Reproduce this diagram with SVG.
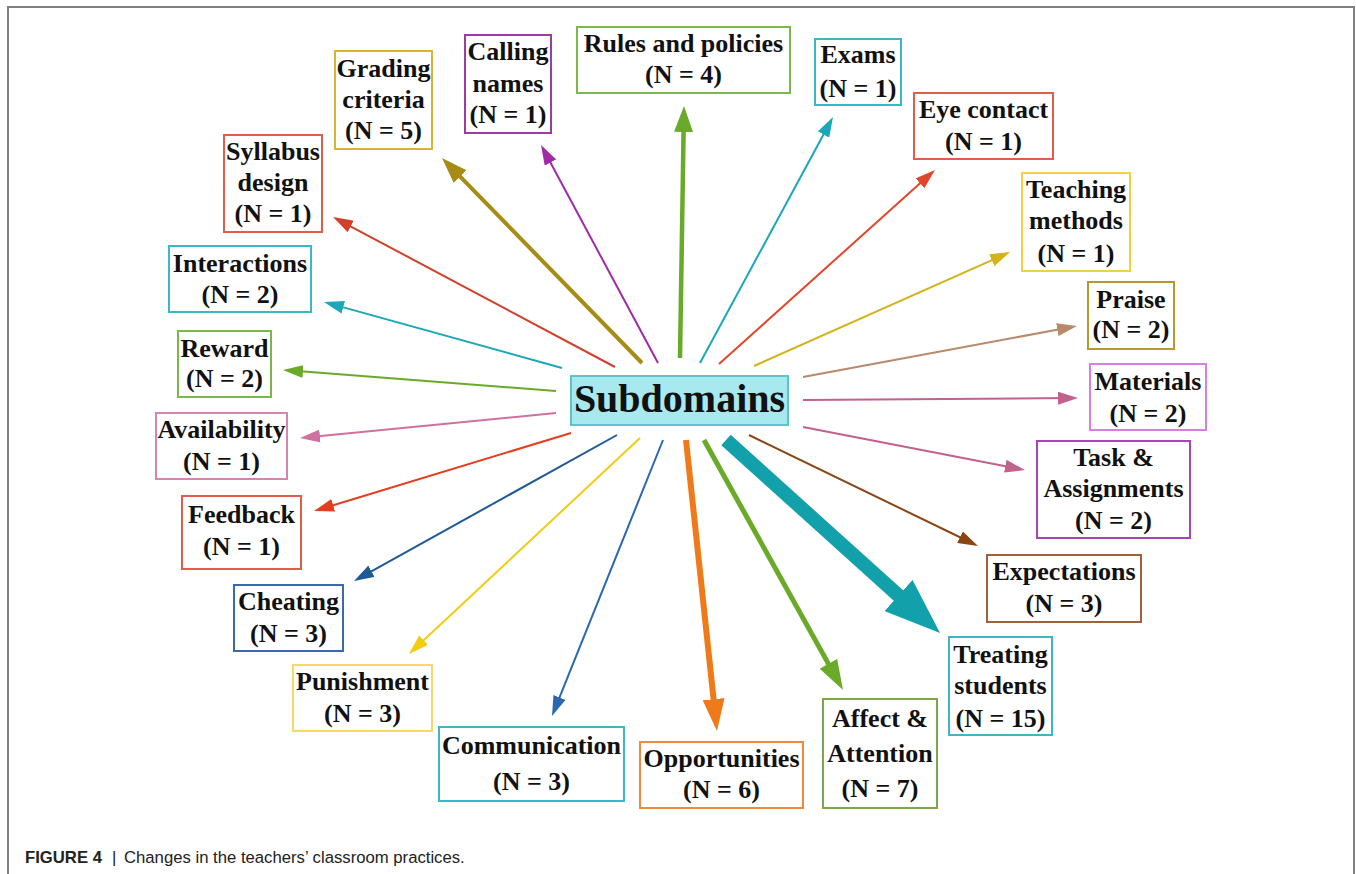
<svg xmlns="http://www.w3.org/2000/svg" width="1356" height="874" viewBox="0 0 1356 874">
<style>
.bg{fill:#ffffff}
.frame{fill:none;stroke:#808080;stroke-width:2}
.box{fill:#ffffff;stroke-width:2}
.t{font-family:"Liberation Serif","Times New Roman",serif;font-weight:bold;font-size:26px;fill:#111;text-anchor:middle}
.hub{font-family:"Liberation Serif","Times New Roman",serif;font-weight:bold;font-size:40px;fill:#111;text-anchor:middle}
.cap{font-family:"Liberation Sans",Arial,sans-serif;font-size:16.7px;fill:#222}
.c{fill:none;stroke-linecap:butt}
.thin{stroke-width:2}
</style>
<defs>
<marker id="m-syl" viewBox="0 0 20 13" refX="12" refY="6.5" markerWidth="20" markerHeight="13" orient="auto" markerUnits="userSpaceOnUse"><path d="M0,0 L20,6.5 L0,13 z" fill="#d0402a"/></marker>
<marker id="m-gra" viewBox="0 0 26 18" refX="14" refY="9" markerWidth="26" markerHeight="18" orient="auto" markerUnits="userSpaceOnUse"><path d="M0,0 L26,9 L0,18 z" fill="#a68c14"/></marker>
<marker id="m-cal" viewBox="0 0 20 13" refX="12" refY="6.5" markerWidth="20" markerHeight="13" orient="auto" markerUnits="userSpaceOnUse"><path d="M0,0 L20,6.5 L0,13 z" fill="#a02aa8"/></marker>
<marker id="m-rul" viewBox="0 0 26 19" refX="14" refY="9.5" markerWidth="26" markerHeight="19" orient="auto" markerUnits="userSpaceOnUse"><path d="M0,0 L26,9.5 L0,19 z" fill="#6aaa2a"/></marker>
<marker id="m-exa" viewBox="0 0 20 13" refX="12" refY="6.5" markerWidth="20" markerHeight="13" orient="auto" markerUnits="userSpaceOnUse"><path d="M0,0 L20,6.5 L0,13 z" fill="#1aa8b8"/></marker>
<marker id="m-eye" viewBox="0 0 20 13" refX="12" refY="6.5" markerWidth="20" markerHeight="13" orient="auto" markerUnits="userSpaceOnUse"><path d="M0,0 L20,6.5 L0,13 z" fill="#e4452a"/></marker>
<marker id="m-tea" viewBox="0 0 20 13" refX="12" refY="6.5" markerWidth="20" markerHeight="13" orient="auto" markerUnits="userSpaceOnUse"><path d="M0,0 L20,6.5 L0,13 z" fill="#d4b21a"/></marker>
<marker id="m-pra" viewBox="0 0 20 13" refX="12" refY="6.5" markerWidth="20" markerHeight="13" orient="auto" markerUnits="userSpaceOnUse"><path d="M0,0 L20,6.5 L0,13 z" fill="#b8896a"/></marker>
<marker id="m-mat" viewBox="0 0 20 13" refX="12" refY="6.5" markerWidth="20" markerHeight="13" orient="auto" markerUnits="userSpaceOnUse"><path d="M0,0 L20,6.5 L0,13 z" fill="#c2608e"/></marker>
<marker id="m-exp" viewBox="0 0 20 13" refX="12" refY="6.5" markerWidth="20" markerHeight="13" orient="auto" markerUnits="userSpaceOnUse"><path d="M0,0 L20,6.5 L0,13 z" fill="#8b4513"/></marker>
<marker id="m-tre" viewBox="0 0 56 42" refX="34" refY="21" markerWidth="56" markerHeight="42" orient="auto" markerUnits="userSpaceOnUse"><path d="M0,0 L56,21 L0,42 z" fill="#12a0aa"/></marker>
<marker id="m-aff" viewBox="0 0 30 20" refX="17" refY="10" markerWidth="30" markerHeight="20" orient="auto" markerUnits="userSpaceOnUse"><path d="M0,0 L30,10 L0,20 z" fill="#6aaa28"/></marker>
<marker id="m-opp" viewBox="0 0 32 22" refX="18" refY="11" markerWidth="32" markerHeight="22" orient="auto" markerUnits="userSpaceOnUse"><path d="M0,0 L32,11 L0,22 z" fill="#f07a1a"/></marker>
<marker id="m-com" viewBox="0 0 20 13" refX="12" refY="6.5" markerWidth="20" markerHeight="13" orient="auto" markerUnits="userSpaceOnUse"><path d="M0,0 L20,6.5 L0,13 z" fill="#2a68b0"/></marker>
<marker id="m-pun" viewBox="0 0 20 13" refX="12" refY="6.5" markerWidth="20" markerHeight="13" orient="auto" markerUnits="userSpaceOnUse"><path d="M0,0 L20,6.5 L0,13 z" fill="#f2cc10"/></marker>
<marker id="m-che" viewBox="0 0 20 13" refX="12" refY="6.5" markerWidth="20" markerHeight="13" orient="auto" markerUnits="userSpaceOnUse"><path d="M0,0 L20,6.5 L0,13 z" fill="#1f5a98"/></marker>
<marker id="m-fee" viewBox="0 0 20 13" refX="12" refY="6.5" markerWidth="20" markerHeight="13" orient="auto" markerUnits="userSpaceOnUse"><path d="M0,0 L20,6.5 L0,13 z" fill="#e43e1e"/></marker>
<marker id="m-ava" viewBox="0 0 20 13" refX="12" refY="6.5" markerWidth="20" markerHeight="13" orient="auto" markerUnits="userSpaceOnUse"><path d="M0,0 L20,6.5 L0,13 z" fill="#d070a0"/></marker>
<marker id="m-rew" viewBox="0 0 20 13" refX="12" refY="6.5" markerWidth="20" markerHeight="13" orient="auto" markerUnits="userSpaceOnUse"><path d="M0,0 L20,6.5 L0,13 z" fill="#6aaa28"/></marker>
<marker id="m-int" viewBox="0 0 20 13" refX="12" refY="6.5" markerWidth="20" markerHeight="13" orient="auto" markerUnits="userSpaceOnUse"><path d="M0,0 L20,6.5 L0,13 z" fill="#1aa8b8"/></marker>
</defs>
<rect class="bg" x="0" y="0" width="1356" height="874"/>
<path class="frame" d="M8,874 L8,7 L1354,7 L1354,874"/>

<g id="connectors">
<line class="c thin" x1="615" y1="367" x2="340.1" y2="220.8" stroke="#d0402a" marker-end="url(#m-syl)"/>
<line class="c" x1="642" y1="363" x2="450.4" y2="166.6" stroke="#a68c14" stroke-width="4" marker-end="url(#m-gra)"/>
<line class="c thin" x1="658" y1="363" x2="544.8" y2="152" stroke="#a02aa8" marker-end="url(#m-cal)"/>
<line class="c" x1="680" y1="358" x2="683.8" y2="118" stroke="#6aaa2a" stroke-width="4.5" marker-end="url(#m-rul)"/>
<line class="c thin" x1="700" y1="363" x2="829.2" y2="124" stroke="#1aa8b8" marker-end="url(#m-exa)"/>
<line class="c thin" x1="719" y1="364" x2="929" y2="175.3" stroke="#e4452a" marker-end="url(#m-eye)"/>
<line class="c thin" x1="754" y1="366" x2="1002.7" y2="255.3" stroke="#d4b21a" marker-end="url(#m-tea)"/>
<line class="c thin" x1="803" y1="377" x2="1069.1" y2="327.5" stroke="#b8896a" marker-end="url(#m-pra)"/>
<line class="c thin" x1="803" y1="400" x2="1070" y2="398.1" stroke="#c2608e" marker-end="url(#m-mat)"/>
<line class="c thin" x1="803" y1="427" x2="1017.1" y2="468.5" stroke="#c2608e" marker-end="url(#m-mat)"/>
<line class="c thin" x1="749" y1="435" x2="970.8" y2="542.5" stroke="#8b4513" marker-end="url(#m-exp)"/>
<line class="c" x1="726" y1="440" x2="923.7" y2="618.3" stroke="#12a0aa" stroke-width="14" marker-end="url(#m-tre)"/>
<line class="c" x1="704" y1="440" x2="836.7" y2="678.6" stroke="#6aaa28" stroke-width="5" marker-end="url(#m-aff)"/>
<line class="c" x1="686" y1="440" x2="715.5" y2="717.1" stroke="#f07a1a" stroke-width="6" marker-end="url(#m-opp)"/>
<line class="c thin" x1="663" y1="440" x2="555" y2="708.6" stroke="#2a68b0" marker-end="url(#m-com)"/>
<line class="c thin" x1="640" y1="438" x2="414.8" y2="648.5" stroke="#f2cc10" marker-end="url(#m-pun)"/>
<line class="c thin" x1="617" y1="435" x2="361" y2="577.1" stroke="#1f5a98" marker-end="url(#m-che)"/>
<line class="c thin" x1="571" y1="433" x2="321.7" y2="508.7" stroke="#e43e1e" marker-end="url(#m-fee)"/>
<line class="c thin" x1="556" y1="413" x2="308" y2="437.2" stroke="#d070a0" marker-end="url(#m-ava)"/>
<line class="c thin" x1="556" y1="391" x2="291" y2="370.6" stroke="#6aaa28" marker-end="url(#m-rew)"/>
<line class="c thin" x1="562" y1="368" x2="331.7" y2="304.1" stroke="#1aa8b8" marker-end="url(#m-int)"/>
</g>

<g id="node-subdomains">
<rect x="571" y="376" width="217" height="49" fill="#a8e8ef" stroke="#5cc4cc" stroke-width="2"/>
<text class="hub" x="679.5" y="412">Subdomains</text>
</g>
<g id="node-grading">
<rect class="box" x="335" y="51" width="97" height="98" stroke="#d8b431"/>
<text class="t" x="383.5" y="77">Grading</text><text class="t" x="383.5" y="108">criteria</text><text class="t" x="383.5" y="139">(N = 5)</text>
</g>
<g id="node-syllabus">
<rect class="box" x="224" y="135" width="98" height="97" stroke="#e35c49"/>
<text class="t" x="273" y="160">Syllabus</text><text class="t" x="273" y="191">design</text><text class="t" x="273" y="222">(N = 1)</text>
</g>
<g id="node-interactions">
<rect class="box" x="169" y="246" width="142" height="66" stroke="#3ab8c8"/>
<text class="t" x="240" y="272">Interactions</text><text class="t" x="240" y="303">(N = 2)</text>
</g>
<g id="node-reward">
<rect class="box" x="178" y="331" width="93" height="66" stroke="#7ab648"/>
<text class="t" x="224.5" y="357">Reward</text><text class="t" x="224.5" y="387">(N = 2)</text>
</g>
<g id="node-availability">
<rect class="box" x="156" y="413" width="131" height="66" stroke="#d884b0"/>
<text class="t" x="221.5" y="438">Availability</text><text class="t" x="221.5" y="470">(N = 1)</text>
</g>
<g id="node-feedback">
<rect class="box" x="182" y="496" width="119" height="73" stroke="#e35c49"/>
<text class="t" x="241.5" y="523">Feedback</text><text class="t" x="241.5" y="555">(N = 1)</text>
</g>
<g id="node-cheating">
<rect class="box" x="234" y="585" width="109" height="66" stroke="#3a6aac"/>
<text class="t" x="288.5" y="610">Cheating</text><text class="t" x="288.5" y="642">(N = 3)</text>
</g>
<g id="node-punishment">
<rect class="box" x="293" y="665" width="139" height="66" stroke="#f4d86a"/>
<text class="t" x="362.5" y="690">Punishment</text><text class="t" x="362.5" y="722">(N = 3)</text>
</g>
<g id="node-communication">
<rect class="box" x="439" y="727" width="185" height="74" stroke="#3ab8c8"/>
<text class="t" x="531.5" y="754">Communication</text><text class="t" x="531.5" y="790">(N = 3)</text>
</g>
<g id="node-opportunities">
<rect class="box" x="640" y="742" width="163" height="66" stroke="#f08a3a"/>
<text class="t" x="721.5" y="767">Opportunities</text><text class="t" x="721.5" y="798">(N = 6)</text>
</g>
<g id="node-affect">
<rect class="box" x="823" y="699" width="114" height="109" stroke="#7aa84a"/>
<text class="t" x="880" y="727">Affect &amp;</text><text class="t" x="880" y="762">Attention</text><text class="t" x="880" y="797">(N = 7)</text>
</g>
<g id="node-treating">
<rect class="box" x="949" y="637" width="103" height="98" stroke="#3ab8c8"/>
<text class="t" x="1000.5" y="663">Treating</text><text class="t" x="1000.5" y="694">students</text><text class="t" x="1000.5" y="727">(N = 15)</text>
</g>
<g id="node-expectations">
<rect class="box" x="987" y="555" width="154" height="67" stroke="#a0623a"/>
<text class="t" x="1064" y="580">Expectations</text><text class="t" x="1064" y="612">(N = 3)</text>
</g>
<g id="node-task">
<rect class="box" x="1037" y="441" width="153" height="97" stroke="#aa44b8"/>
<text class="t" x="1113.5" y="466">Task &amp;</text><text class="t" x="1113.5" y="497">Assignments</text><text class="t" x="1113.5" y="529">(N = 2)</text>
</g>
<g id="node-materials">
<rect class="box" x="1090" y="364" width="116" height="66" stroke="#d580e0"/>
<text class="t" x="1148" y="390">Materials</text><text class="t" x="1148" y="422">(N = 2)</text>
</g>
<g id="node-praise">
<rect class="box" x="1088" y="282" width="86" height="67" stroke="#b49a2a"/>
<text class="t" x="1131" y="308">Praise</text><text class="t" x="1131" y="338">(N = 2)</text>
</g>
<g id="node-teaching">
<rect class="box" x="1022" y="173" width="108" height="98" stroke="#f2d040"/>
<text class="t" x="1076" y="198">Teaching</text><text class="t" x="1076" y="229">methods</text><text class="t" x="1076" y="262">(N = 1)</text>
</g>
<g id="node-eye">
<rect class="box" x="914" y="93" width="139" height="66" stroke="#e35c49"/>
<text class="t" x="983.5" y="118">Eye contact</text><text class="t" x="983.5" y="150">(N = 1)</text>
</g>
<g id="node-exams">
<rect class="box" x="815" y="39" width="86" height="66" stroke="#3ab8c8"/>
<text class="t" x="858" y="63">Exams</text><text class="t" x="858" y="97">(N = 1)</text>
</g>
<g id="node-rules">
<rect class="box" x="577" y="27" width="213" height="66" stroke="#7cb84a"/>
<text class="t" x="683.5" y="52">Rules and policies</text><text class="t" x="683.5" y="83">(N = 4)</text>
</g>
<g id="node-calling">
<rect class="box" x="465" y="35" width="86" height="98" stroke="#9c3aa8"/>
<text class="t" x="508" y="60">Calling</text><text class="t" x="508" y="92">names</text><text class="t" x="508" y="123">(N = 1)</text>
</g>

<text class="cap" y="863"><tspan x="25" font-weight="bold">FIGURE 4</tspan><tspan x="112">|</tspan><tspan x="124">Changes in the teachers’ classroom practices.</tspan></text>
</svg>
